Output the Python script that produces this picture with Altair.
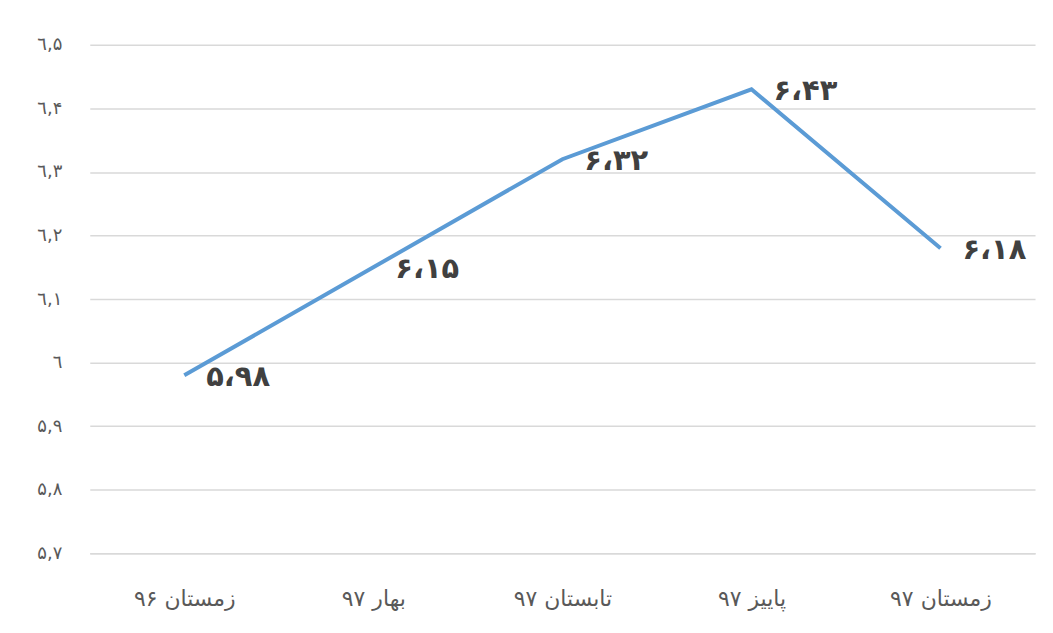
import altair as alt
import pandas as pd

categories = ["زمستان ۹۶", "بهار ۹۷", "تابستان ۹۷", "پاییز ۹۷", "زمستان ۹۷"]
values = [5.98, 6.15, 6.32, 6.43, 6.18]
value_labels = ["۵،۹۸", "۶،۱۵", "۶،۳۲", "۶،۴۳", "۶،۱۸"]
y_tick_values = [5.7, 5.8, 5.9, 6.0, 6.1, 6.2, 6.3, 6.4, 6.5]
y_tick_labels = ["۵,٧", "۵,٨", "۵,٩", "٦", "٦,١", "٦,٢", "٦,٣", "٦,۴", "٦,۵"]

df = pd.DataFrame({"period": categories, "value": values, "label": value_labels})

label_array = "[" + ",".join("'" + s + "'" for s in y_tick_labels) + "]"
label_expr = f"{label_array}[round(datum.value*10) - 57]"

x_enc = alt.X("period:N", sort=categories, title=None,
              axis=alt.Axis(labelAngle=0, labelFontSize=22, labelColor="#595959",
                            labelFont="DejaVu Sans", labelPadding=35, ticks=False,
                            domainColor="#d9d9d9", domainWidth=1.5, grid=False))
y_enc = alt.Y("value:Q", title=None,
              scale=alt.Scale(domain=[5.7, 6.5], nice=False, zero=False),
              axis=alt.Axis(values=y_tick_values, labelExpr=label_expr, labelFontSize=18,
                            labelColor="#595959", labelFont="DejaVu Sans", labelPadding=28,
                            ticks=False, domain=False, gridColor="#d9d9d9", gridWidth=1.5))

line = alt.Chart(df).mark_line(color="#5B9BD5", strokeWidth=4).encode(x=x_enc, y=y_enc)
text = alt.Chart(df).mark_text(align="left", baseline="middle", dx=22, dy=2,
                               fontSize=29, fontWeight="bold", color="#404040",
                               font="DejaVu Sans").encode(
    x=alt.X("period:N", sort=categories), y="value:Q", text="label:N")

chart = alt.layer(line, text).properties(
    width=948, height=510,
    background="white",
    autosize=alt.AutoSizeParams(type="none"),
    padding={"left": 82, "top": 36, "right": 10, "bottom": 70},
).configure_view(strokeWidth=0, stroke="transparent")

chart.save("out.html", embed_options={"renderer": "svg", "actions": False})
